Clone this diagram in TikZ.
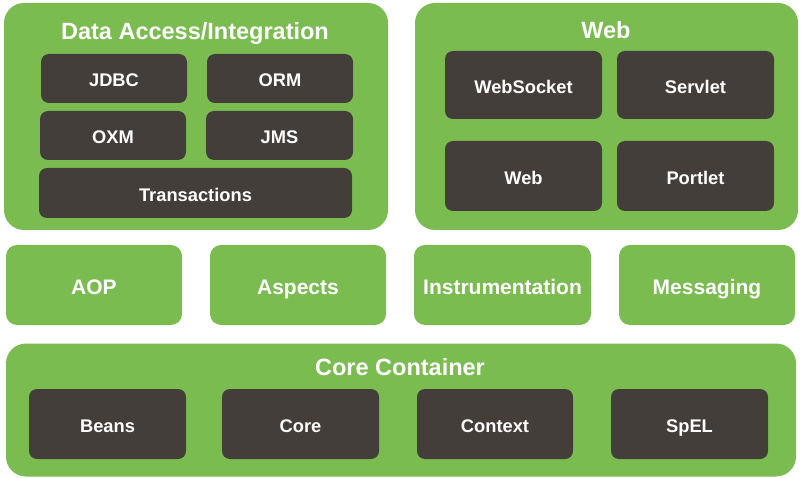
\documentclass[tikz,border=0pt]{standalone}
\usepackage{fontspec}
\setmainfont{Liberation Sans}
\definecolor{sgreen}{RGB}{123,188,81}
\definecolor{sdark}{RGB}{68,62,59}
\begin{document}
\begin{tikzpicture}[x=1pt,y=-1pt,
  bigbox/.style={fill=sgreen, rounded corners=20pt, inner sep=0pt},
  gbox/.style={fill=sgreen, rounded corners=11pt, inner sep=0pt, text=white, text height=19pt, text depth=0pt, font=\bfseries\fontsize{21}{24}\selectfont},
  dbox/.style={fill=sdark, rounded corners=8pt, inner sep=0pt, text=white, text height=17pt, text depth=0pt, font=\bfseries\fontsize{18.3}{21}\selectfont},
  title/.style={text=white, inner sep=0pt, text height=16.8pt, text depth=0pt, font=\bfseries\fontsize{23.5}{26}\selectfont}]
\useasboundingbox[fill=white] (0,0) rectangle (805,478);
% Data Access/Integration
\node[bigbox, minimum width=384pt, minimum height=227pt] (da) at (196,116.5) {};
\node[title] (dat) at (195,31) {Data Access/Integration};
\node[dbox, minimum width=146pt, minimum height=49pt] (jdbc) at (114,78.5) {JDBC};
\node[dbox, minimum width=146pt, minimum height=49pt] (orm) at (280,78.5) {ORM};
\node[dbox, minimum width=146pt, minimum height=49pt] (oxm) at (113,135.5) {OXM};
\node[dbox, minimum width=147pt, minimum height=49pt] (jms) at (279.5,135.5) {JMS};
\node[dbox, minimum width=313pt, minimum height=50pt] (tx) at (195.5,193) {Transactions};
% Web
\node[bigbox, minimum width=383pt, minimum height=227pt] (web) at (606.5,116.5) {};
\node[title] (webt) at (606,30) {Web};
\node[dbox, minimum width=157pt, minimum height=68pt] (ws) at (523.5,85) {WebSocket};
\node[dbox, minimum width=157pt, minimum height=68pt] (sv) at (695.5,85) {Servlet};
\node[dbox, minimum width=157pt, minimum height=70pt] (wb) at (523.5,176) {Web};
\node[dbox, minimum width=157pt, minimum height=70pt] (pl) at (695.5,176) {Portlet};
% middle row
\node[gbox, minimum width=176pt, minimum height=80pt] (aop) at (94,285) {AOP};
\node[gbox, minimum width=176pt, minimum height=80pt] (asp) at (298,285) {Aspects};
\node[gbox, minimum width=177pt, minimum height=80pt] (ins) at (502.5,285) {Instrumentation};
\node[gbox, minimum width=176pt, minimum height=80pt] (msg) at (707,285) {Messaging};
% Core Container
\node[bigbox, minimum width=790pt, minimum height=133pt] (cc) at (401,410) {};
\node[title] (cct) at (400,367) {Core Container};
\node[dbox, minimum width=157pt, minimum height=70pt] (beans) at (107.5,424) {Beans};
\node[dbox, minimum width=157pt, minimum height=70pt] (core) at (300.5,424) {Core};
\node[dbox, minimum width=156pt, minimum height=70pt] (ctx) at (495,424) {Context};
\node[dbox, minimum width=157pt, minimum height=70pt] (spel) at (689.5,424) {SpEL};
\end{tikzpicture}
\end{document}
